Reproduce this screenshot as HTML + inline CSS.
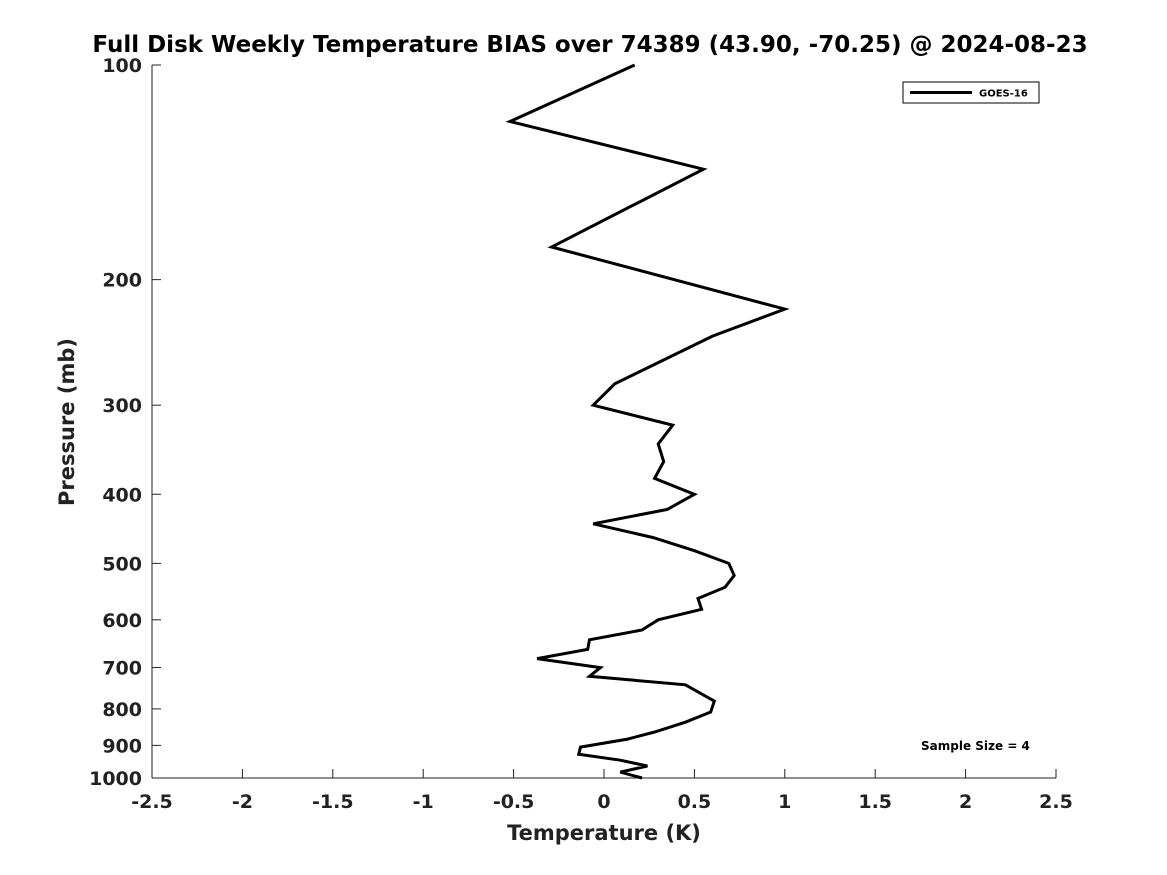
<!DOCTYPE html>
<html><head><meta charset="utf-8"><style>
html,body{margin:0;padding:0;background:#fff;}
svg{display:block;font-family:"DejaVu Sans","Liberation Sans",sans-serif;font-weight:bold;}
</style></head><body>
<svg id="chart" width="1167" height="875" viewBox="0 0 1167 875">
<text x="590" y="52" text-anchor="middle" font-size="23">Full Disk Weekly Temperature BIAS over 74389 (43.90, -70.25) @ 2024-08-23</text>
<g id="axes"></g>
<text x="604" y="840" text-anchor="middle" font-size="21" fill="#222">Temperature (K)</text>
<text transform="translate(74,422) rotate(-90)" text-anchor="middle" font-size="21" fill="#222">Pressure (mb)</text>
<g>
<rect x="903" y="82" width="136" height="21" fill="#fff" stroke="#000" stroke-width="1"/>
<line x1="910" y1="92.5" x2="972" y2="92.5" stroke="#000" stroke-width="3"/>
<text x="979" y="96.5" font-size="10">GOES-16</text>
</g>
<text x="921" y="750" font-size="12">Sample Size = 4</text>
</svg>
<script>
const pressures=[100,120,140,180,220,240,280,300,320,340,360,380,400,420,440,460,480,500,520,540,560,580,600,620,640,660,680,700,720,740,780,808,835,862,882,905,926,944,962,981,1000];
const temps=[0.17,-0.52,0.55,-0.29,1.0,0.60,0.06,-0.06,0.38,0.30,0.33,0.28,0.50,0.35,-0.06,0.27,0.50,0.69,0.72,0.67,0.52,0.54,0.30,0.21,-0.08,-0.09,-0.37,-0.02,-0.08,0.45,0.61,0.59,0.45,0.28,0.13,-0.13,-0.14,0.09,0.24,0.09,0.21,0.74];
const xTicks=[-2.5,-2,-1.5,-1,-0.5,0,0.5,1,1.5,2,2.5];
const yTicks=[100,200,300,400,500,600,700,800,900,1000];
const NS="http://www.w3.org/2000/svg";
const X0=152,X1=1056,Y0=65,Y1=778;
function xs(v){return X0+(v+2.5)/5*(X1-X0);}
function ys(p){return Y0+Math.log10(p/100)*(Y1-Y0);}
const svg=document.getElementById('chart');
const axes=document.getElementById('axes');
function mk(tag,attrs,parent){const e=document.createElementNS(NS,tag);for(const k in attrs)e.setAttribute(k,attrs[k]);(parent||axes).appendChild(e);return e;}
const yl=mk('line',{x1:X0,y1:Y0,x2:X0,y2:Y1,stroke:'#222','stroke-width':1});


const xl=mk('line',{x1:X0,y1:Y1,x2:X1,y2:Y1,stroke:'#222','stroke-width':1});


xTicks.forEach(v=>{
  const t=mk('line',{x1:xs(v),y1:Y1,x2:xs(v),y2:Y1-9,stroke:'#222'});
  
  
  const l=mk('text',{x:xs(v),y:Y1+30,'text-anchor':'middle','font-size':19,fill:'#222'});
  l.textContent=String(v);
  
  
});
yTicks.forEach(p=>{
  const t=mk('line',{x1:X0,y1:ys(p),x2:X0+9,y2:ys(p),stroke:'#222'});
  
  
  const l=mk('text',{x:X0-10,y:ys(p)+7,'text-anchor':'end','font-size':19,fill:'#222'});
  l.textContent=String(p);
  
  
});
const n=Math.min(pressures.length,temps.length);
let d='';
for(let i=0;i<n;i++){d+=(i?'L':'M')+xs(temps[i]).toFixed(1)+','+ys(pressures[i]).toFixed(1);}
const path=mk('path',{d:d,fill:'none',stroke:'#000','stroke-width':3,'stroke-linejoin':'miter'},svg);


</script>
</body></html>
